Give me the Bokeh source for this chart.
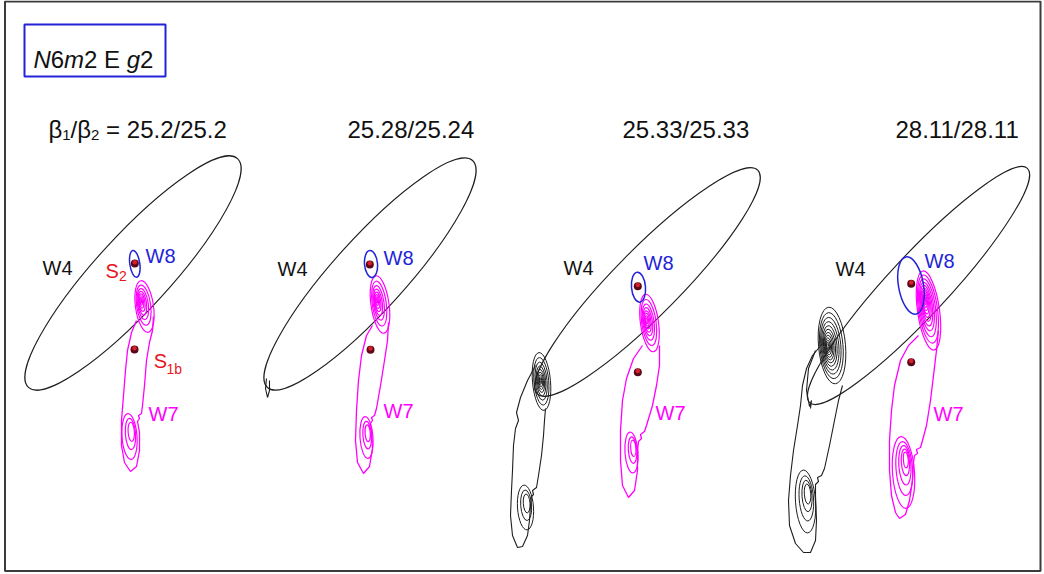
from bokeh.plotting import figure
from bokeh.models import Range1d
from bokeh.core.properties import value
from bokeh.embed import file_html
from bokeh.resources import INLINE

W, H = 1044, 574
FONT = "Liberation Sans"

BLACK = "#1e1e1e"
MAGENTA = "#ff00ff"
BLUE = "#2323d8"
RED = "#e8141c"

# ---------------------------------------------------------------------------
# Data (pixel-space coordinates, y measured downward from the top edge)
# ---------------------------------------------------------------------------
panel_titles = ["25.2/25.2", "25.28/25.24", "25.33/25.33", "28.11/28.11"]

# W4 orbit: centre, semi-axes, tilt of the long axis (deg)
w4_cx = [132.5, 369.5, 647.0, 918.0]
w4_cy = [272.5, 273.5, 281.5, 285.0]
w4_a = [155, 153, 157, 160]
w4_b = [37, 36, 33, 30]
w4_ang = [47.6, 47.9, 45.4, 47.1]

# W8 orbit around S2
w8_cx = [134.3, 370.5, 638.0, 910.5]
w8_cy = [263.3, 263.5, 286.7, 285.0]
w8_major = [27, 27, 30, 58]
w8_minor = [10, 13, 14, 25]
w8_ang = [98, 95, 95, 100]

# fixed points
s2_x = [134.3, 369.3, 637.3, 910.7]
s2_y = [263.0, 264.0, 285.7, 283.3]
s1b_x = [134.0, 370.0, 637.3, 910.7]
s1b_y = [349.0, 349.3, 371.7, 361.7]

# spirals: outer loop centre/size, focus the loops wind into, loop scales
w7_spirals = [
    dict(cx=144, cy=306, w=18, h=52, fx=140, fy=300, tilt=8,
         scales=[1.0, 0.78, 0.6, 0.46, 0.34, 0.24, 0.15, 0.08]),
    dict(cx=129, cy=436, w=15, h=46, fx=132, fy=428, tilt=4,
         scales=[1.0, 0.68, 0.42]),
    dict(cx=379.5, cy=304, w=18, h=58, fx=376, fy=300, tilt=8,
         scales=[1.0, 0.78, 0.6, 0.46, 0.34, 0.24, 0.15, 0.08]),
    dict(cx=366, cy=437, w=13, h=42, fx=368, fy=430, tilt=4,
         scales=[1.0, 0.66, 0.4]),
    dict(cx=649, cy=322.5, w=18, h=58, fx=646, fy=320, tilt=8,
         scales=[1.0, 0.8, 0.63, 0.49, 0.37, 0.27, 0.18, 0.1]),
    dict(cx=631, cy=452, w=13, h=41, fx=634, fy=445, tilt=4,
         scales=[1.0, 0.65, 0.4]),
    dict(cx=928, cy=310, w=22, h=80, fx=924, fy=300, tilt=8,
         scales=[1.0, 0.86, 0.73, 0.61, 0.51, 0.42, 0.34, 0.27, 0.2, 0.14, 0.08]),
    dict(cx=903, cy=472, w=22, h=72, fx=906, fy=456, tilt=4,
         scales=[1.0, 0.75, 0.55, 0.37, 0.22]),
]
w4_spirals = [
    dict(cx=541, cy=381, w=18, h=58, fx=540, fy=380, tilt=5,
         scales=[1.0, 0.82, 0.66, 0.52, 0.4, 0.3, 0.21, 0.13, 0.07]),
    dict(cx=525, cy=507, w=16, h=45, fx=527, fy=500, tilt=4,
         scales=[1.0, 0.68, 0.42]),
    dict(cx=831.5, cy=345, w=27, h=77, fx=827, fy=346, tilt=5,
         scales=[1.0, 0.86, 0.74, 0.63, 0.53, 0.44, 0.36, 0.29, 0.22, 0.16, 0.11, 0.07]),
    dict(cx=805, cy=501, w=20, h=63, fx=808, fy=490, tilt=4,
         scales=[1.0, 0.72, 0.5, 0.32]),
]

# connecting trajectories between the two spirals of each orbit
w7_tracks = [
    [(136, 320), (131, 332), (127, 350), (125, 370), (123, 395), (121, 420), (121, 445),
     (124, 462), (130, 471), (136, 466), (139, 450), (139, 432), (137, 421), (139, 418),
     (138, 415), (141, 413), (142, 405), (144, 385), (146, 360), (149, 342), (152, 330),
     (153, 316)],
    [(372, 325), (366, 335), (361, 355), (358, 380), (356, 410), (355, 440), (357, 462),
     (363, 473), (369, 466), (372, 448), (371, 430), (370, 423), (372, 420), (371, 417),
     (374, 415), (376, 408), (380, 385), (384, 360), (387, 340), (388, 322)],
    [(642, 345), (633, 358), (626, 378), (622, 400), (620, 430), (620, 460), (622, 485),
     (628, 497), (634, 490), (637, 470), (637, 450), (638, 441), (641, 438), (640, 434),
     (644, 431), (646, 425), (652, 405), (656, 385), (659, 365), (659, 345)],
    [(918, 335), (908, 345), (900, 360), (894, 385), (891, 410), (889, 440), (889, 470),
     (891, 495), (895, 512), (899, 518), (905, 514), (909, 500), (912, 480), (913, 462),
     (914, 455), (917, 453), (916, 449), (920, 447), (922, 440), (926, 425), (930, 400),
     (933, 375), (936, 350), (938, 330)],
]
w4_tracks = [
    [(535, 365), (527, 380), (520, 397), (516, 412), (518, 420), (515, 428), (513, 445),
     (512, 470), (511, 490), (510, 515), (512, 535), (517, 547), (522, 546), (527, 535),
     (529, 520), (530, 505), (531, 496), (533, 494), (532, 490), (536, 487), (538, 475),
     (541, 455), (543, 435), (544, 420), (545, 408)],
    [(822, 343), (812, 355), (806, 368), (802, 385), (800, 405), (797, 425), (793, 450),
     (790, 475), (788, 500), (789, 525), (795, 543), (803, 552), (810, 552), (815, 540),
     (816, 520), (815, 495), (815, 484), (818, 481), (817, 477), (821, 475), (824, 468),
     (829, 445), (834, 420), (838, 400), (842, 385)],
    [(815, 350), (808, 368), (806, 390), (809, 406), (811, 400), (810, 408)],
    [(266, 378), (265, 388), (267, 397), (269, 390), (269, 380)],
]

# ---------------------------------------------------------------------------
p = figure(width=W, height=H, x_range=Range1d(0, W), y_range=Range1d(0, H),
           output_backend="svg", toolbar_location=None, min_border=0,
           x_axis_type=None, y_axis_type=None)
p.grid.visible = False
p.outline_line_color = None
p.background_fill_color = "white"
p.border_fill_color = "white"


def up(ys):
    return [H - v for v in ys]


def put_text(x, y, s, size, color="#111111", style="normal"):
    p.text(x=[x], y=[H - y], text=[s], text_font=value(FONT),
           text_font_size=f"{size}px", text_color=color, text_font_style=style,
           text_baseline="alphabetic", text_align="left")


def draw_spiral(sp, color, width):
    s = sp["scales"]
    xs = [sp["fx"] + (sp["cx"] - sp["fx"]) * k for k in s]
    ys = [sp["fy"] + (sp["cy"] - sp["fy"]) * k for k in s]
    p.ellipse(x=xs, y=up(ys), width=[sp["w"] * k for k in s],
              height=[sp["h"] * k for k in s], angle=sp["tilt"], angle_units="deg",
              fill_color=None, line_color=color, line_width=width)


# frame and header box
p.quad(left=[4.5], right=[1040], top=[H - 1], bottom=[H - 570.5],
       fill_color=None, line_color="#3c3c3c", line_width=2)
p.quad(left=[24], right=[165], top=[H - 24], bottom=[H - 76],
       fill_color=None, line_color=BLUE, line_width=2)

# W4 orbits
p.ellipse(x=w4_cx, y=up(w4_cy), width=[2 * a for a in w4_a], height=[2 * b for b in w4_b],
          angle=w4_ang, angle_units="deg", fill_color=None, line_color=BLACK, line_width=1.1)
for sp in w4_spirals:
    draw_spiral(sp, BLACK, 1.0)
for tr in w4_tracks:
    p.line([q[0] for q in tr], up([q[1] for q in tr]), line_color=BLACK, line_width=1.1)

# W7 orbits
for sp in w7_spirals:
    draw_spiral(sp, MAGENTA, 1.2)
for tr in w7_tracks:
    p.line([q[0] for q in tr], up([q[1] for q in tr]), line_color=MAGENTA, line_width=1.3)

# W8 orbits
p.ellipse(x=w8_cx, y=up(w8_cy), width=w8_major, height=w8_minor, angle=w8_ang,
          angle_units="deg", fill_color=None, line_color=BLUE, line_width=1.5)

# fixed points
for xs, ys in ((s2_x, s2_y), (s1b_x, s1b_y)):
    p.scatter(x=xs, y=up(ys), size=8, fill_color="#5a0818", line_color=None)
    p.scatter(x=xs, y=[H - v + 1.2 for v in ys], size=4.5, fill_color="#e3222c",
              line_color=None, fill_alpha=0.9)

# header text: N6m2 E g2
hdr = [("N", 33, "italic"), ("6", 50.3, "normal"), ("m", 63.6, "italic"),
       ("2 E", 83.6, "normal"), ("g", 126.3, "italic"), ("2", 139.6, "normal")]
for s, x, st in hdr:
    put_text(x, 59, s, 24, style=st)

# panel titles
put_text(48, 129, "\u03b2", 24)
put_text(61.8, 134, "1", 15)
put_text(70.1, 129, "/\u03b2", 24)
put_text(90.6, 134, "2", 15)
put_text(105.6, 129, "= " + panel_titles[0], 24)
for x, t in zip([347, 622, 895], panel_titles[1:]):
    put_text(x, 129, t, 24)

# orbit labels
for x, y in zip([42, 277, 563, 835], [267, 268, 267, 268]):
    put_text(x, y, "W4", 20, color="#111111")
for x, y in zip([145, 383, 643, 924], [255, 257, 262, 260]):
    put_text(x, y, "W8", 20, color=BLUE)
for x, y in zip([148, 383, 655, 933], [413, 410, 412, 413]):
    put_text(x, y, "W7", 20, color=MAGENTA)

put_text(105, 270, "S", 20, color=RED)
put_text(118.5, 275, "2", 14, color=RED)
put_text(153.3, 360, "S", 20, color=RED)
put_text(166, 368, "1b", 14, color=RED)

open("out.html", "w").write(file_html(p, INLINE))
